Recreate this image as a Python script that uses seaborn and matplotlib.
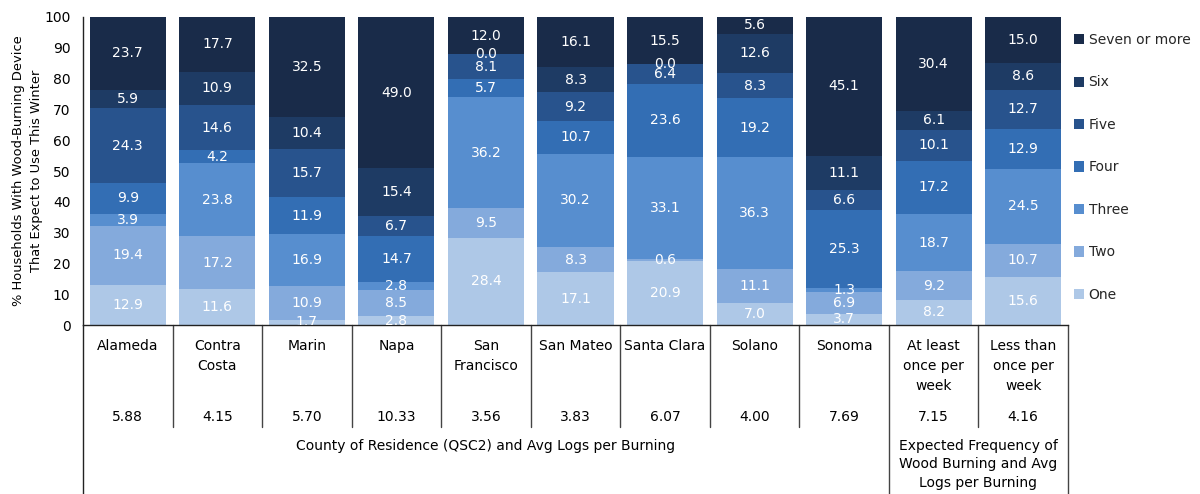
import numpy as np
import pandas as pd
import matplotlib
matplotlib.use("Agg")
import matplotlib.pyplot as plt
from matplotlib.patches import Patch
import seaborn as sns

# ---------------- data ----------------
categories = ["Alameda", "Contra\nCosta", "Marin", "Napa", "San\nFrancisco", "San Mateo",
              "Santa Clara", "Solano", "Sonoma", "At least\nonce per\nweek", "Less than\nonce per\nweek"]
avg_logs = ["5.88", "4.15", "5.70", "10.33", "3.56", "3.83", "6.07", "4.00", "7.69", "7.15", "4.16"]
series_names = ["One", "Two", "Three", "Four", "Five", "Six", "Seven or more"]
one   = [12.9, 11.6, 1.7, 2.8, 28.4, 17.1, 20.9, 7.0, 3.7, 8.2, 15.6]
two   = [19.4, 17.2, 10.9, 8.5, 9.5, 8.3, 0.6, 11.1, 6.9, 9.2, 10.7]
three = [3.9, 23.8, 16.9, 2.8, 36.2, 30.2, 33.1, 36.3, 1.3, 18.7, 24.5]
four  = [9.9, 4.2, 11.9, 14.7, 5.7, 10.7, 23.6, 19.2, 25.3, 17.2, 12.9]
five  = [24.3, 14.6, 15.7, 6.7, 8.1, 9.2, 6.4, 8.3, 6.6, 10.1, 12.7]
six   = [5.9, 10.9, 10.4, 15.4, 0.0, 8.3, 0.0, 12.6, 11.1, 6.1, 8.6]
seven = [23.7, 17.7, 32.5, 49.0, 12.0, 16.1, 15.5, 5.6, 45.1, 30.4, 15.0]
group_labels = ["County of Residence (QSC2) and Avg Logs per Burning",
                "Expected Frequency of\nWood Burning and Avg\nLogs per Burning"]
group_sizes = [9, 2]
y_label = "% Households With Wood-Burning Device\nThat Expect to Use This Winter"

colors = ["#aec8e7", "#84aadc", "#578ecf", "#336eb4", "#28538d", "#1e3b64", "#192b49"]

# ---------------- figure ----------------
sns.set_theme(style="white")
plt.rcParams["font.family"] = ["DejaVu Sans"]

W, H = 1200, 494
fig = plt.figure(figsize=(W / 100, H / 100), dpi=100)
ax_left, ax_right, ax_top, ax_bot = 83, 1068, 17, 325
ax = fig.add_axes([ax_left / W, 1 - ax_bot / H, (ax_right - ax_left) / W, (ax_bot - ax_top) / H])

series = [one, two, three, four, five, six, seven]
vals = np.array(series)
cum = np.cumsum(vals, axis=0)
df = pd.DataFrame({"cat": categories})

# draw from top layer down so each lower layer overlays
for k in range(len(series) - 1, -1, -1):
    df["v"] = cum[k]
    sns.barplot(data=df, x="cat", y="v", color=colors[k], saturation=1, width=0.85,
                edgecolor="none", linewidth=0, ax=ax, errorbar=None)

# segment labels
for k in range(len(series)):
    for i in range(len(categories)):
        v = vals[k, i]
        yc = cum[k, i] - v / 2
        ax.text(i, yc, f"{v:.1f}", ha="center", va="center", color="white",
                fontsize=10, clip_on=True)

ax.set_xlim(-0.5, len(categories) - 0.5)
ax.set_ylim(0, 100)
ax.set_yticks(range(0, 101, 10))
ax.tick_params(axis="y", length=0, pad=9, labelsize=10, labelcolor="black")
ax.set_xticks([])
ax.set_xlabel("")
ax.set_ylabel(y_label, fontsize=9.4, color="black", linespacing=1.45)
ax.yaxis.set_label_coords((43 - ax_left) / (ax_right - ax_left), 0.5)

for s in ["top", "right"]:
    ax.spines[s].set_visible(False)
for s in ["left", "bottom"]:
    ax.spines[s].set_color("#222222")
    ax.spines[s].set_linewidth(1.0)

# ---------------- table below axis ----------------
ah = ax_bot - ax_top
def yfrac(py):
    return (ax_bot - py) / ah

trans = ax.get_xaxis_transform()
line_kw = dict(color="#444444", lw=1.0, clip_on=False, transform=trans)
bounds = np.cumsum(group_sizes)
for b in range(1, len(categories)):
    if b in bounds:
        ax.plot([b - 0.5, b - 0.5], [0, yfrac(H)], **line_kw)
    else:
        ax.plot([b - 0.5, b - 0.5], [0, yfrac(427)], **line_kw)
ax.plot([-0.5, -0.5], [0, yfrac(H)], color="#222222", lw=1.0, clip_on=False, transform=trans)
ax.plot([len(categories) - 0.5] * 2, [0, yfrac(H)], **line_kw)

for i, c in enumerate(categories):
    ax.text(i, yfrac(339), c, ha="center", va="top", fontsize=10, linespacing=1.55,
            transform=trans, color="black")
    ax.text(i, yfrac(417), avg_logs[i], ha="center", va="center", fontsize=10,
            transform=trans, color="black")

start = 0
for g, n in zip(group_labels, group_sizes):
    xc = start + (n - 1) / 2
    ax.text(xc, yfrac(439), g, ha="center", va="top", fontsize=10, linespacing=1.4,
            transform=trans, color="black")
    start += n

# ---------------- legend ----------------
handles = [Patch(facecolor=colors[k], edgecolor="none", label=series_names[k])
           for k in range(len(series) - 1, -1, -1)]
fig.legend(handles=handles, loc="upper left", bbox_to_anchor=(1074 / W, 1 - 33 / H),
           frameon=False, fontsize=10, handlelength=0.75, handleheight=0.75,
           handletextpad=0.3, labelspacing=2.05, borderpad=0, borderaxespad=0)

fig.savefig("out.png", dpi=100)
